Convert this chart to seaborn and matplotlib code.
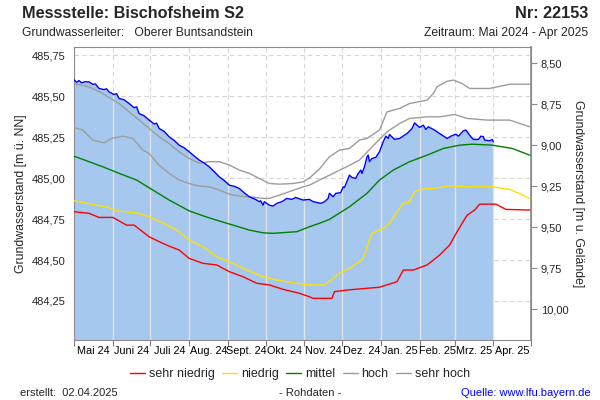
import numpy as np
import pandas as pd
import matplotlib
matplotlib.use('Agg')
import matplotlib.pyplot as plt
import matplotlib.dates as mdates
from matplotlib.lines import Line2D
from matplotlib.ticker import FixedLocator, FuncFormatter, NullFormatter
import seaborn as sns

sns.set_theme(style='white')
plt.rcParams['font.family'] = ['Liberation Sans', 'DejaVu Sans']

GELAENDE = 494.20  # Geländehöhe [m ü. NN]

# Messwerte (Rohdaten)
mess_datum = ['2024-05-01', '2024-05-03', '2024-05-05', '2024-05-07', '2024-05-10', '2024-05-13',
              '2024-05-16', '2024-05-18', '2024-05-21', '2024-05-25', '2024-05-27', '2024-05-29',
              '2024-06-02', '2024-06-04', '2024-06-06', '2024-06-10', '2024-06-14', '2024-06-18',
              '2024-06-20', '2024-06-22', '2024-06-26', '2024-06-30', '2024-07-04', '2024-07-06',
              '2024-07-08', '2024-07-12', '2024-07-16', '2024-07-20', '2024-07-24', '2024-07-28',
              '2024-08-01', '2024-08-05', '2024-08-09', '2024-08-13', '2024-08-17', '2024-08-21',
              '2024-08-25', '2024-08-29', '2024-09-02', '2024-09-06', '2024-09-10', '2024-09-14',
              '2024-09-18', '2024-09-23', '2024-09-26', '2024-09-27', '2024-09-29', '2024-09-30',
              '2024-10-04', '2024-10-07', '2024-10-10', '2024-10-14', '2024-10-18', '2024-10-22',
              '2024-10-25', '2024-10-31', '2024-11-05', '2024-11-08', '2024-11-14', '2024-11-17',
              '2024-11-20', '2024-11-21', '2024-11-24', '2024-11-26', '2024-11-30', '2024-12-02',
              '2024-12-03', '2024-12-06', '2024-12-07', '2024-12-09', '2024-12-12', '2024-12-14',
              '2024-12-16', '2024-12-17', '2024-12-19', '2024-12-21', '2024-12-22', '2024-12-23',
              '2024-12-25', '2024-12-28', '2024-12-31', '2025-01-03', '2025-01-05', '2025-01-07',
              '2025-01-08', '2025-01-12', '2025-01-16', '2025-01-22', '2025-01-26', '2025-01-28',
              '2025-02-01', '2025-02-04', '2025-02-06', '2025-02-08', '2025-02-13', '2025-02-17',
              '2025-02-23', '2025-02-26', '2025-03-02', '2025-03-04', '2025-03-08', '2025-03-10',
              '2025-03-14', '2025-03-16', '2025-03-20', '2025-03-22', '2025-03-24', '2025-03-25',
              '2025-03-29', '2025-03-31', '2025-04-01']
mess_wert = [485.600, 485.585, 485.595, 485.582, 485.588, 485.587,
             485.572, 485.575, 485.547, 485.540, 485.545, 485.526,
             485.510, 485.515, 485.486, 485.478, 485.455, 485.430,
             485.435, 485.394, 485.380, 485.354, 485.330, 485.335,
             485.303, 485.285, 485.252, 485.230, 485.201, 485.185,
             485.160, 485.135, 485.110, 485.092, 485.069, 485.040,
             485.008, 484.985, 484.957, 484.950, 484.937, 484.910,
             484.886, 484.870, 484.856, 484.862, 484.835, 484.856,
             484.835, 484.829, 484.846, 484.856, 484.876, 484.870,
             484.882, 484.866, 484.870, 484.856, 484.846, 484.855,
             484.876, 484.907, 484.886, 484.907, 484.911, 484.947,
             484.943, 484.998, 485.018, 485.004, 484.998, 485.028,
             485.049, 485.028, 485.069, 485.130, 485.140, 485.100,
             485.120, 485.126, 485.161, 485.222, 485.256, 485.242,
             485.266, 485.236, 485.242, 485.272, 485.303, 485.337,
             485.309, 485.323, 485.297, 485.313, 485.293, 485.272,
             485.242, 485.256, 485.268, 485.256, 485.289, 485.293,
             485.252, 485.236, 485.236, 485.256, 485.252, 485.232,
             485.228, 485.236, 485.221]

# Statistische Kennwerte über das Jahr
sehr_hoch_datum = ['2024-05-01', '2024-05-13', '2024-05-24', '2024-06-06', '2024-06-14', '2024-06-22',
                   '2024-06-30', '2024-07-08', '2024-07-16', '2024-07-24', '2024-08-01', '2024-08-09',
                   '2024-08-17', '2024-08-25', '2024-09-02', '2024-09-10', '2024-09-18', '2024-09-26',
                   '2024-10-04', '2024-10-12', '2024-10-23', '2024-10-31', '2024-11-05', '2024-11-13',
                   '2024-11-21', '2024-11-29', '2024-12-07', '2024-12-15', '2024-12-21', '2024-12-31',
                   '2025-01-06', '2025-01-16', '2025-01-24', '2025-02-07', '2025-02-12', '2025-02-15',
                   '2025-02-23', '2025-02-28', '2025-03-07', '2025-03-13', '2025-03-29', '2025-04-14',
                   '2025-04-30']
sehr_hoch_wert = [485.577, 485.557, 485.516, 485.455, 485.404, 485.354,
                  485.303, 485.252, 485.211, 485.160, 485.120, 485.090,
                  485.100, 485.100, 485.080, 485.049, 485.029, 484.998,
                  484.967, 484.963, 484.967, 484.977, 485.000, 485.055,
                  485.130, 485.171, 485.181, 485.232, 485.242, 485.293,
                  485.404, 485.425, 485.455, 485.476, 485.516, 485.557,
                  485.591, 485.598, 485.577, 485.547, 485.547, 485.573,
                  485.573]

hoch_datum = ['2024-05-01', '2024-05-08', '2024-05-16', '2024-05-25', '2024-05-31', '2024-06-09',
              '2024-06-17', '2024-06-25', '2024-06-30', '2024-07-08', '2024-07-16', '2024-07-24',
              '2024-08-01', '2024-08-09', '2024-08-17', '2024-08-25', '2024-09-02', '2024-09-10',
              '2024-09-18', '2024-09-29', '2024-10-04', '2024-10-12', '2024-10-20', '2024-10-31',
              '2024-11-05', '2024-11-13', '2024-11-24', '2024-12-05', '2024-12-15', '2024-12-25',
              '2025-01-06', '2025-01-16', '2025-01-24', '2025-02-07', '2025-02-17', '2025-03-01',
              '2025-03-11', '2025-03-27', '2025-04-14', '2025-04-30']
hoch_wert = [485.309, 485.293, 485.232, 485.215, 485.242, 485.256,
             485.242, 485.171, 485.150, 485.079, 485.029, 484.988,
             484.967, 484.951, 484.947, 484.927, 484.902, 484.890,
             484.886, 484.876, 484.876, 484.896, 484.917, 484.947,
             484.957, 484.988, 485.029, 485.070, 485.110, 485.190,
             485.282, 485.333, 485.364, 485.374, 485.374, 485.388,
             485.364, 485.354, 485.354, 485.313]

mittel_datum = ['2024-05-01', '2024-05-13', '2024-05-24', '2024-06-06', '2024-06-20', '2024-07-03',
                '2024-07-16', '2024-08-01', '2024-08-12', '2024-08-20', '2024-09-02', '2024-09-18',
                '2024-09-29', '2024-10-07', '2024-10-26', '2024-11-05', '2024-11-13', '2024-11-21',
                '2024-12-07', '2024-12-21', '2024-12-31', '2025-01-11', '2025-01-24', '2025-02-07',
                '2025-02-20', '2025-03-05', '2025-03-15', '2025-03-31', '2025-04-16', '2025-04-30']
mittel_wert = [485.134, 485.100, 485.069, 485.029, 484.988, 484.927,
               484.866, 484.800, 484.770, 484.750, 484.720, 484.683,
               484.666, 484.663, 484.673, 484.703, 484.724, 484.748,
               484.825, 484.907, 484.988, 485.049, 485.100, 485.140,
               485.181, 485.201, 485.207, 485.201, 485.181, 485.140]

niedrig_datum = ['2024-05-01', '2024-05-19', '2024-05-29', '2024-06-04', '2024-06-20', '2024-06-30',
                 '2024-07-11', '2024-07-22', '2024-08-01', '2024-08-12', '2024-08-23', '2024-09-02',
                 '2024-09-16', '2024-09-29', '2024-10-10', '2024-10-26', '2024-11-05', '2024-11-17',
                 '2024-11-24', '2024-11-29', '2024-12-07', '2024-12-13', '2024-12-18', '2024-12-21',
                 '2024-12-25', '2025-01-03', '2025-01-08', '2025-01-14', '2025-01-19', '2025-01-24',
                 '2025-01-28', '2025-02-01', '2025-02-12', '2025-02-25', '2025-03-11', '2025-03-31',
                 '2025-04-14', '2025-04-23', '2025-04-30']
niedrig_wert = [484.862, 484.835, 484.820, 484.800, 484.788, 484.764,
                484.727, 484.683, 484.622, 484.581, 484.520, 484.490,
                484.439, 484.398, 484.378, 484.358, 484.348, 484.348,
                484.388, 484.419, 484.449, 484.480, 484.510, 484.581,
                484.663, 484.693, 484.724, 484.795, 484.846, 484.855,
                484.917, 484.931, 484.937, 484.953, 484.947, 484.947,
                484.931, 484.902, 484.876]

sehr_niedrig_datum = ['2024-05-01', '2024-05-13', '2024-05-21', '2024-06-01', '2024-06-12', '2024-06-18',
                      '2024-06-30', '2024-07-08', '2024-07-16', '2024-07-24', '2024-08-01', '2024-08-12',
                      '2024-08-23', '2024-09-02', '2024-09-13', '2024-09-24', '2024-10-04', '2024-10-15',
                      '2024-10-28', '2024-11-05', '2024-11-08', '2024-11-23', '2024-11-25', '2024-12-05',
                      '2024-12-31', '2025-01-14', '2025-01-19', '2025-01-27', '2025-02-07', '2025-02-17',
                      '2025-02-25', '2025-03-03', '2025-03-07', '2025-03-11', '2025-03-17', '2025-03-21',
                      '2025-04-03', '2025-04-11', '2025-04-30']
sehr_niedrig_wert = [484.795, 484.785, 484.760, 484.760, 484.713, 484.713,
                     484.642, 484.612, 484.585, 484.561, 484.510, 484.480,
                     484.470, 484.429, 484.398, 484.358, 484.348, 484.321,
                     484.297, 484.276, 484.266, 484.266, 484.307, 484.317,
                     484.334, 484.368, 484.439, 484.439, 484.470, 484.530,
                     484.591, 484.673, 484.724, 484.774, 484.805, 484.841,
                     484.841, 484.809, 484.805]

reihen = ['sehr niedrig', 'niedrig', 'mittel', 'hoch', 'sehr hoch']
farben = {'sehr niedrig': '#ff0000', 'niedrig': '#ffe100', 'mittel': '#008000',
          'hoch': '#9c9c9c', 'sehr hoch': '#9c9c9c'}
monate = ['Mai 24', 'Juni 24', 'Juli 24', 'Aug. 24', 'Sept. 24', 'Okt. 24',
          'Nov. 24', 'Dez. 24', 'Jan. 25', 'Feb. 25', 'Mrz. 25', 'Apr. 25']
links_ticks = [484.25, 484.50, 484.75, 485.00, 485.25, 485.50, 485.75]
rechts_ticks = [8.50, 8.75, 9.00, 9.25, 9.50, 9.75, 10.00]

stat = pd.concat([
    pd.DataFrame({'datum': pd.to_datetime(d), 'wert': w, 'reihe': r})
    for d, w, r in [(sehr_niedrig_datum, sehr_niedrig_wert, 'sehr niedrig'),
                    (niedrig_datum, niedrig_wert, 'niedrig'),
                    (mittel_datum, mittel_wert, 'mittel'),
                    (hoch_datum, hoch_wert, 'hoch'),
                    (sehr_hoch_datum, sehr_hoch_wert, 'sehr hoch')]
], ignore_index=True)
mess = pd.DataFrame({'datum': pd.to_datetime(mess_datum), 'wert': mess_wert})

fig = plt.figure(figsize=(6, 4), dpi=100)
ax = fig.add_axes([74 / 600, 60 / 400, 457 / 600, 293 / 400])

y_min, y_max = 484.012, 485.80
ax.set_xlim(pd.Timestamp('2024-05-01'), pd.Timestamp('2025-05-01'))
ax.set_ylim(y_min, y_max)

# Gitter gestrichelt
ax.grid(True, which='major', color='#d6d6d6', linestyle=(0, (4, 3)), linewidth=0.8, zorder=0)

# Fläche unter den Messwerten
ax.fill_between(mess['datum'], y_min, mess['wert'], color='#a6c8ee', linewidth=0, zorder=1)

# Monatslinien innerhalb der Fläche
grenzen = pd.date_range('2024-06-01', '2025-04-01', freq='MS')
t_num = mdates.date2num(mess['datum'])
hoehe = np.interp(mdates.date2num(grenzen), t_num, mess['wert'])
ax.vlines(grenzen, y_min, hoehe, color='#e2e2e2', linewidth=1.0, zorder=2)

sns.lineplot(data=stat, x='datum', y='wert', hue='reihe', hue_order=reihen, palette=farben,
             linewidth=1.0, legend=False, ax=ax, zorder=3)
sns.lineplot(data=mess, x='datum', y='wert', color='#0000ff', linewidth=1.0, ax=ax, zorder=4)

# x-Achse: Striche an Monatsgrenzen, Beschriftung in Monatsmitte
monatsanfang = pd.date_range('2024-05-01', '2025-05-01', freq='MS')
mitte = monatsanfang[:-1] + (monatsanfang[1:] - monatsanfang[:-1]) / 2
ax.xaxis.set_major_locator(FixedLocator(mdates.date2num(monatsanfang)))
ax.xaxis.set_major_formatter(NullFormatter())
ax.xaxis.set_minor_locator(FixedLocator(mdates.date2num(mitte)))
ax.xaxis.set_minor_formatter(FuncFormatter(lambda v, p: monate[p] if p < len(monate) else ''))
ax.tick_params(axis='x', which='major', length=4, width=0.8, color='#808080', direction='out', bottom=True)
ax.tick_params(axis='x', which='minor', length=0, labelsize=7.8, pad=4, colors='#000000', bottom=True)

komma = FuncFormatter(lambda v, p: f'{v:.2f}'.replace('.', ','))
ax.yaxis.set_major_locator(FixedLocator(links_ticks))
ax.yaxis.set_major_formatter(komma)
ax.tick_params(axis='y', length=0, labelsize=8, pad=6)
ax.set_xlabel('')
ax.set_ylabel('Grundwasserstand [m ü. NN]', fontsize=8.8)
ax.yaxis.set_label_coords(-0.102, 0.5)

for s in ax.spines.values():
    s.set_color('#8c8c8c')
    s.set_linewidth(0.8)

sek = ax.secondary_yaxis('right', functions=(lambda v: GELAENDE - v, lambda d: GELAENDE - d))
sek.yaxis.set_major_locator(FixedLocator(rechts_ticks))
sek.yaxis.set_major_formatter(komma)
sek.tick_params(axis='y', length=4, width=0.8, color='#8c8c8c', labelsize=8, pad=3)
sek.spines['right'].set_color('#8c8c8c')
sek.set_ylabel('Grundwasserstand [m u. Gelände]', fontsize=8.8, rotation=270, labelpad=11)

# Kopf
fig.text(22 / 600, 1 - 14 / 400, 'Messstelle: Bischofsheim S2', fontsize=11.7, fontweight='bold', va='center')
fig.text(588 / 600, 1 - 14 / 400, 'Nr: 22153', fontsize=11.7, fontweight='bold', va='center', ha='right')
fig.text(22 / 600, 1 - 33 / 400, 'Grundwasserleiter:   Oberer Buntsandstein', fontsize=8.7, va='center')
fig.text(588 / 600, 1 - 33 / 400, 'Zeitraum: Mai 2024 - Apr 2025', fontsize=8.7, va='center', ha='right')

# Legende
griffe = [Line2D([0], [0], color=farben[r], linewidth=1.0) for r in reihen]
fig.legend(griffe, reihen, loc='center', bbox_to_anchor=(300 / 600, 1 - 374 / 400), ncol=5, frameon=False,
           fontsize=9, handlelength=1.2, handletextpad=0.3, columnspacing=0.6)

# Fuß
fig.text(20 / 600, 1 - 393 / 400, 'erstellt:  02.04.2025', fontsize=8, va='center')
fig.text(310 / 600, 1 - 393 / 400, '- Rohdaten -', fontsize=8, va='center', ha='center')
fig.text(591 / 600, 1 - 393 / 400, 'Quelle: www.lfu.bayern.de', fontsize=8, va='center', ha='right',
         color='#0000ff')

fig.savefig('out.png', dpi=100)
plt.close(fig)
print('out.png gespeichert')
